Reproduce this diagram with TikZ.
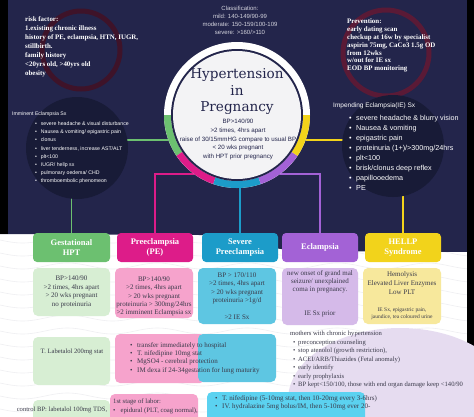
\documentclass[tikz,border=0pt]{standalone}
\usepackage{fontspec}
\setmainfont{Liberation Serif}
\setsansfont{Liberation Sans}
\newfontfamily\titlefont{DejaVu Serif}
\usetikzlibrary{calc}
\definecolor{navy}{HTML}{23254B}
\definecolor{darkc}{HTML}{181B37}
\definecolor{ringL}{HTML}{3E1329}
\definecolor{ringR}{HTML}{5A1A36}
\definecolor{hgreen}{HTML}{6CC070}
\definecolor{hmag}{HTML}{DD1C89}
\definecolor{hblue}{HTML}{1C9CC9}
\definecolor{hpurp}{HTML}{A362D6}
\definecolor{hyel}{HTML}{F2D31B}
\definecolor{lgreen}{HTML}{D7EED3}
\definecolor{lpink}{HTML}{F6A3CC}
\definecolor{lblue}{HTML}{5EC6E2}
\definecolor{llav}{HTML}{D5BAE9}
\definecolor{lyel}{HTML}{F7E89C}
\definecolor{lcyan}{HTML}{5BD2F0}
\definecolor{lavbg}{HTML}{E6DCF0}
\definecolor{txtc}{HTML}{3A3A4A}
\definecolor{clsc}{HTML}{D4D4DE}
\definecolor{innerc}{HTML}{F3F3F5}
\definecolor{wavec}{HTML}{EFEFF2}
\newcommand\mybul[1][7pt]{\makebox[#1][l]{\textbullet}}
\begin{document}
\begin{tikzpicture}[x=1pt,y=-1pt,
  hdr/.style={rounded corners=4pt, minimum width=77pt, minimum height=29pt, inner sep=0pt, text=white, font=\bfseries\fontsize{8.5}{10}\selectfont, align=center},
  boxs/.style={rounded corners=5pt, inner sep=0pt},
  btxt/.style={text=txtc, font=\fontsize{7}{8.6}\selectfont, align=center, inner sep=0pt},
  ltxt/.style={text=txtc, font=\fontsize{7}{8.4}\selectfont, align=left, inner sep=0pt, anchor=north west},
  conn/.style={line width=1.5pt},
  wtxt/.style={text=white, align=left, inner sep=0pt, anchor=north west}
]
\useasboundingbox (0,0) rectangle (474,416);
\fill[white] (0,0) rectangle (474,416);
\foreach \k in {0,...,14} {
  \draw[wavec, line width=0.6pt] plot[domain=0:474, samples=80, smooth] (\x, {240+13*\k + 3*sin(4*\x)});
}
% dark background
\fill[navy] (0,0) -- (474,0) -- (474,252) -- (300,251) .. controls (265,250) and (250,236) .. (200,235) -- (0,234) -- cycle;
\fill[black] (0,0) rectangle (8,234);
\fill[black] (467,0) rectangle (474,416);
% decorative rings
\draw[ringL, line width=5pt] (81,50) circle (39);
\draw[ringR, line width=5pt] (386,53) circle (43);
% hub and headers
\node[circle, minimum size=146pt, inner sep=0pt] (hub) at (237,115) {};
\node[hdr, fill=hgreen] (gh) at (71.5,247.5) {Gestational\\HPT};
\node[hdr, fill=hmag, minimum width=76pt] (ph) at (155,247.5) {Preeclampsia\\(PE)};
\node[hdr, fill=hblue, minimum width=76pt] (sh) at (240,247.5) {Severe\\Preeclampsia};
\node[hdr, fill=hpurp, minimum width=76pt] (eh) at (320,247.5) {Eclampsia};
\node[hdr, fill=hyel, minimum width=76pt] (hh) at (403,247.5) {HELLP\\Syndrome};
% connectors
\draw[conn, hgreen] (hub.200) -- (gh.north |- hub.200) -- (gh.north);
\draw[conn, hmag] (hub.234) -- (ph.north |- hub.234) -- (ph.north);
\draw[conn, hblue] (hub.south -| sh.north) -- (sh.north);
\draw[conn, hpurp] (hub.306) -- (eh.north |- hub.306) -- (eh.north);
\draw[conn, hyel] (hub.340) -- (hh.north |- hub.340) -- (hh.north);
% dark circles
\fill[darkc] (77,148) circle (51);
\fill[darkc] (393,146) circle (51);
% hub drawing
\fill[white] (hub.center) circle (73);
\foreach \a/\b/\c in {146/180/hgreen, 109/146/hmag, 71/109/hblue, 34/71/hpurp, 0/34/hyel} {
  \fill[\c] ($(hub.center)+(\a:73)$) arc[start angle=\a, end angle=\b, radius=73] -- ($(hub.center)+(\b:66)$) arc[start angle=\b, end angle=\a, radius=66] -- cycle;
}
\fill[navy] (hub.center) circle (66);
\fill[innerc] (hub.center) circle (64);
\node[anchor=north, align=center, text=navy, font=\titlefont\fontsize{13.6}{16.8}\selectfont, inner sep=0pt] (title) at (237,68) {Hypertension\\in\\Pregnancy};
\node[anchor=north, align=center, text=navy, font=\sffamily\fontsize{6.2}{8.7}\selectfont, inner sep=0pt] (sub) at (238,119) {BP>140/90\\>2 times, 4hrs apart\\raise of 30/15mmHG compare to usual BP\\< 20 wks pregnant\\with HPT prior pregnancy};
% top texts
\node[anchor=north, align=center, text=clsc, font=\sffamily\fontsize{6}{8}\selectfont, inner sep=0pt] (cls) at (240,5.5) {Classification:\\mild: 140-149/90-99\\moderate: 150-159/100-109\\severe: >160/>110};
\node[wtxt, font=\bfseries\fontsize{6.9}{9.05}\selectfont] (risk) at (25,16) {risk factor:\\1.existing chronic illness\\history of PE, eclampsia, HTN, IUGR,\\stillbirth.\\family history\\<20yrs old, >40yrs old\\obesity};
\node[wtxt, font=\bfseries\fontsize{6.9}{7.8}\selectfont] (prev) at (347,19) {Prevention:\\early dating scan\\checkup at 16w by specialist\\aspirin 75mg, CaCo3 1.5g OD\\from 12wks\\w/out for IE sx\\EOD BP monitoring};
\node[wtxt, font=\sffamily\fontsize{5.2}{8.2}\selectfont] (imh) at (12,111.5) {Imminent Eclampsia Sx};
\node[wtxt, font=\sffamily\fontsize{5.2}{8.2}\selectfont] (iml) at (35,121.5) {\mybul[5.7pt]severe headache \& visual disturbance\\\mybul[5.7pt]Nausea \& vomiting/ epigastric pain\\\mybul[5.7pt]clonus\\\mybul[5.7pt]liver tenderness, increase AST/ALT\\\mybul[5.7pt]plt<100\\\mybul[5.7pt]IUGR/ hellp sx\\\mybul[5.7pt]pulmonary oedema/ CHD\\\mybul[5.7pt]thromboembolic phenomeon};
\node[wtxt, font=\sffamily\fontsize{6.5}{10}\selectfont] (ieh) at (333,103) {Impending Eclampsia(IE) Sx};
\node[wtxt, font=\sffamily\fontsize{7.2}{10}\selectfont] (iel) at (349,115) {\mybul severe headache \& blurry vision\\\mybul Nausea \& vomiting\\\mybul epigastric pain\\\mybul proteinuria (1+)/>300mg/24hrs\\\mybul plt<100\\\mybul brisk/clonus deep reflex\\\mybul papillooedema\\\mybul PE};
% row 2 boxes
\node[boxs, fill=lgreen, minimum width=77pt, minimum height=48pt] (g2) at (71.5,292) {};
\node[boxs, fill=lpink, minimum width=78pt, minimum height=50pt] (p2) at (154,293) {};
\node[boxs, fill=lblue, minimum width=78pt, minimum height=56pt] (s2) at (237,296) {};
\node[boxs, fill=llav, minimum width=76pt, minimum height=57pt] (e2) at (320,296.5) {};
\node[boxs, fill=lyel, minimum width=78pt, minimum height=56pt] (h2) at (402,296) {};
\node[btxt, font=\fontsize{7}{8.8}\selectfont] at (g2.center) {BP>140/90\\>2 times, 4hrs apart\\> 20 wks pregnant\\no proteinuria};
\node[btxt, font=\fontsize{7}{8.2}\selectfont] at ($(p2.center)+(0,3.5)$) {BP>140/90\\>2 times, 4hrs apart\\> 20 wks pregnant\\proteinuria > 300mg/24hrs\\>2 imminent Eclampsia sx};
\node[btxt, font=\fontsize{7}{8.4}\selectfont] at (s2.center) {BP > 170/110\\>2 times, 4hrs apart\\> 20 wks pregnant\\proteinuria >1g/d\\[8.4pt]>2 IE Sx};
\node[btxt, font=\fontsize{7}{8.3}\selectfont] at (320,281.7) {new onset of grand mal\\seizure/ unexplained\\coma in pregnancy.};
\node[btxt] at (320,314) {IE Sx prior};
\node[btxt, font=\fontsize{7}{8.8}\selectfont] at (402,283) {Hemolysis\\Elevated Liver Enzymes\\Low PLT};
\node[btxt, font=\fontsize{5.5}{7.4}\selectfont] at (402,313.5) {IE Sx, epigastric pain,\\jaundice, tea coloured urine};
% row 3
\node[boxs, fill=lgreen, minimum width=77pt, minimum height=48pt] (g3) at (71.5,361) {};
\node[boxs, fill=lpink, minimum width=90pt, minimum height=49pt] (p3) at (160,358.5) {};
\node[boxs, fill=lblue, minimum width=78pt, minimum height=48pt] (s3) at (237,358) {};
\node[btxt, font=\fontsize{6.6}{8}\selectfont] at (72,352) {T. Labetalol 200mg stat};
\node[ltxt] (p3t) at (130,342) {\mybul transfer immediately to hospital\\\mybul T. nifedipine 10mg stat\\\mybul MgSO4 - cerebral protection\\\mybul IM dexa if 24-34gestation for lung maturity};
% lavender area
\fill[lavbg] (400,400) ellipse [x radius=112, y radius=72];
\node[ltxt, font=\fontsize{6.6}{8.45}\selectfont] (mch) at (290,331) {mothers with chronic hypertension\\\hspace*{3pt}\mybul[5pt]preconception counseling\\\hspace*{3pt}\mybul[5pt]stop atenolol (growth restriction),\\\hspace*{3pt}\mybul[5pt]ACEI/ARB/Thiazides (Fetal anomaly)\\\hspace*{3pt}\mybul[5pt]early identify\\\hspace*{3pt}\mybul[5pt]early prophylaxis\\\hspace*{3pt}\mybul[5pt]BP kept<150/100, those with end organ damage keep <140/90};
% row 4
\node[boxs, fill=lgreen, minimum width=77pt, minimum height=32pt] (g4) at (71.5,416) {};
\node[boxs, fill=lpink, minimum width=88pt, minimum height=40pt] (p4) at (154,414) {};
\node[boxs, fill=lcyan, minimum width=158pt, minimum height=44pt] (c4) at (286,414) {};
\node[btxt, font=\fontsize{6.6}{8}\selectfont] at (62,410) {control BP: labetalol 100mg TDS,};
\node[ltxt, font=\fontsize{6.7}{9}\selectfont] (p4t) at (113,399) {1st stage of labor:\\\mybul[7.4pt]epidural (PLT, coag normal),};
\node[ltxt, font=\fontsize{7}{8.3}\selectfont] (c4t) at (215,395) {\mybul T. nifedipine (5-10mg stat, then 10-20mg every 3-6hrs)\\\mybul IV. hydralazine 5mg bolus/IM, then 5-10mg ever 20-};
\end{tikzpicture}
\end{document}
